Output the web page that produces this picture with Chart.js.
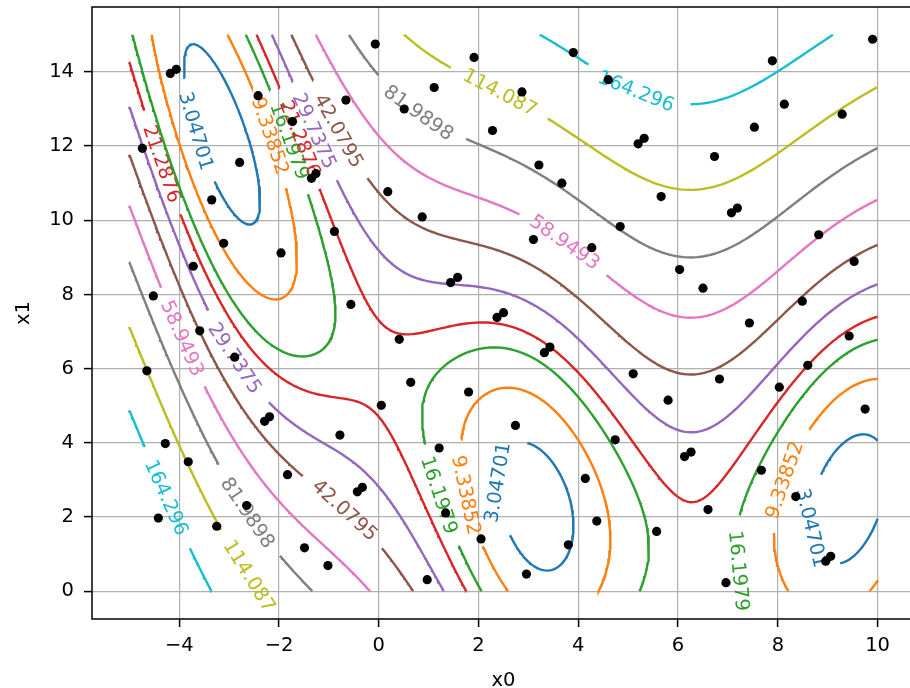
<!DOCTYPE html>
<html>
<head>
<meta charset="utf-8">
<script src="https://cdn.jsdelivr.net/npm/chart.js@4.4.1/dist/chart.umd.min.js"></script>
<style>
  html, body { margin: 0; padding: 0; overflow: hidden; background: #fff; width: 910px; height: 688px; }
  canvas { display: block; }
</style>
</head>
<body>
<canvas id="chart" width="925" height="688" style="width:925px;height:688px"></canvas>
<script>
// Contour levels of the Branin surface and their line colours
const levels = [3.04701, 9.33852, 16.1979, 21.2876, 29.7375, 42.0795, 58.9493, 81.9898, 114.087, 164.296];
const levelColors = ['#1f77b4', '#ff7f0e', '#2ca02c', '#d62728', '#9467bd',
                     '#8c564b', '#e377c2', '#7f7f7f', '#bcbd22', '#17becf'];

// Sampled points (x0, x1)
const sampleX0 = [
  -0.07, -4.06, -4.18, -2.42, -0.66, -1.73, -4.74, -2.79, -1.26, -1.35,
  -3.35, 1.91, 3.90, 4.60, 1.11, 2.87, 0.51, 2.28, 5.32, 5.20,
  3.21, 3.67, 0.18, 0.87, 9.90, 7.89, 8.13, 9.29, 7.53, 6.73,
  5.66, 7.19, 7.07, -3.11, -1.96, -0.89, -3.72, -4.52, -0.56, -3.59,
  -2.89, -4.65, -2.19, -2.29, 4.84, 3.10, 4.27, 1.58, 1.44, 2.50,
  2.37, 0.41, 3.43, 3.32, 5.10, 0.64, 1.80, 0.05, 2.74, 8.82,
  9.53, 6.03, 6.50, 8.49, 7.43, 9.43, 8.60, 6.83, 8.03, 5.80,
  9.75, -4.28, -0.78, -3.82, -1.83, -0.33, -0.43, -2.65, -4.42, -3.25,
  -1.49, -1.02, 1.21, 4.74, 4.14, 1.34, 4.37, 2.05, 3.80, 0.97,
  2.96, 6.26, 6.13, 7.67, 8.36, 6.60, 5.57, 9.06, 8.96, 6.96
];
const sampleX1 = [
  14.75, 14.07, 13.96, 13.36, 13.24, 12.66, 11.94, 11.56, 11.26, 11.13,
  10.55, 14.39, 14.52, 13.79, 13.58, 13.46, 13.00, 12.42, 12.21, 12.06,
  11.49, 11.00, 10.77, 10.09, 14.88, 14.30, 13.13, 12.86, 12.51, 11.72,
  10.64, 10.33, 10.20, 9.38, 9.12, 9.70, 8.76, 7.96, 7.73, 7.02,
  6.31, 5.94, 4.70, 4.58, 9.83, 9.48, 9.26, 8.46, 8.32, 7.51,
  7.38, 6.79, 6.58, 6.43, 5.86, 5.63, 5.37, 5.01, 4.47, 9.61,
  8.89, 8.67, 8.17, 7.82, 7.23, 6.88, 6.09, 5.72, 5.50, 5.15,
  4.91, 3.98, 4.21, 3.49, 3.14, 2.80, 2.68, 2.31, 1.97, 1.75,
  1.17, 0.69, 3.86, 4.08, 3.04, 2.11, 1.89, 1.41, 1.25, 0.31,
  0.46, 3.75, 3.63, 3.26, 2.55, 2.20, 1.61, 0.94, 0.81, 0.23
];

const xTicks = [-4, -2, 0, 2, 4, 6, 8, 10];
const yTicks = [0, 2, 4, 6, 8, 10, 12, 14];

// Where the inline contour labels sit: [level index, x0, x1]
const labelAnchors = [
  [0, -3.66, 12.41], [0, 2.27, 2.96], [0, 8.68, 1.70],
  [1, -2.09, 12.33], [1, 1.82, 2.60], [1, 8.09, 3.02],
  [2, -1.77, 12.15], [2, 1.27, 2.60], [2, 7.28, 0.54],
  [3, -1.57, 12.23], [3, -4.31, 11.52],
  [4, -1.17, 12.50], [4, -2.84, 6.36],
  [5, -0.77, 12.46], [5, -0.64, 2.20],
  [6, -3.91, 6.86], [6, 3.77, 9.46],
  [7, 0.83, 12.95], [7, -2.57, 2.20],
  [8, 2.44, 13.58], [8, -2.51, 0.49],
  [9, 5.18, 13.54], [9, -4.21, 2.55]
];

// ---- Branin surface and its contour lines (marching squares) ----
function branin(x0, x1) {
  const a = 1, b = 5.1 / (4 * Math.PI * Math.PI), c = 5 / Math.PI;
  const r = 6, s = 10, t = 1 / (8 * Math.PI);
  const q = x1 - b * x0 * x0 + c * x0 - r;
  return a * q * q + s * (1 - t) * Math.cos(x0) + s;
}

const DOMAIN_X0 = [-5, 10];
const DOMAIN_X1 = [0, 15];
const GRID_N = 220;
const gx = i => DOMAIN_X0[0] + (DOMAIN_X0[1] - DOMAIN_X0[0]) * i / GRID_N;
const gy = j => DOMAIN_X1[0] + (DOMAIN_X1[1] - DOMAIN_X1[0]) * j / GRID_N;
const field = [];
for (let i = 0; i <= GRID_N; i++) {
  field.push([]);
  for (let j = 0; j <= GRID_N; j++) field[i].push(branin(gx(i), gy(j)));
}

function contourLines(level) {
  const pts = {};
  const segs = [];
  const edge = (key, xa, ya, va, xb, yb, vb) => {
    if (!(key in pts)) {
      const t = (level - va) / (vb - va);
      pts[key] = { x: xa + (xb - xa) * t, y: ya + (yb - ya) * t };
    }
    return key;
  };
  for (let i = 0; i < GRID_N; i++) {
    for (let j = 0; j < GRID_N; j++) {
      const v0 = field[i][j], v1 = field[i + 1][j], v2 = field[i + 1][j + 1], v3 = field[i][j + 1];
      const a0 = v0 >= level, a1 = v1 >= level, a2 = v2 >= level, a3 = v3 >= level;
      const e = [null, null, null, null];
      if (a0 !== a1) e[0] = edge('h' + i + '_' + j, gx(i), gy(j), v0, gx(i + 1), gy(j), v1);
      if (a1 !== a2) e[1] = edge('v' + (i + 1) + '_' + j, gx(i + 1), gy(j), v1, gx(i + 1), gy(j + 1), v2);
      if (a3 !== a2) e[2] = edge('h' + i + '_' + (j + 1), gx(i), gy(j + 1), v3, gx(i + 1), gy(j + 1), v2);
      if (a0 !== a3) e[3] = edge('v' + i + '_' + j, gx(i), gy(j), v0, gx(i), gy(j + 1), v3);
      const hit = e.filter(k => k !== null);
      if (hit.length === 2) {
        segs.push([hit[0], hit[1]]);
      } else if (hit.length === 4) {
        const center = (v0 + v1 + v2 + v3) / 4 >= level;
        if (center === a0) { segs.push([e[0], e[1]], [e[2], e[3]]); }
        else { segs.push([e[3], e[0]], [e[1], e[2]]); }
      }
    }
  }
  const byKey = {};
  segs.forEach((s, idx) => {
    (byKey[s[0]] = byKey[s[0]] || []).push(idx);
    (byKey[s[1]] = byKey[s[1]] || []).push(idx);
  });
  const used = new Uint8Array(segs.length);
  const nextFrom = key => {
    for (const idx of byKey[key]) {
      if (!used[idx]) { used[idx] = 1; const s = segs[idx]; return s[0] === key ? s[1] : s[0]; }
    }
    return null;
  };
  const lines = [];
  for (let idx = 0; idx < segs.length; idx++) {
    if (used[idx]) continue;
    used[idx] = 1;
    const fwd = [segs[idx][0], segs[idx][1]];
    let k;
    while ((k = nextFrom(fwd[fwd.length - 1])) !== null) fwd.push(k);
    const back = [];
    while ((k = nextFrom(back.length ? back[back.length - 1] : fwd[0])) !== null) back.push(k);
    const chain = back.reverse().concat(fwd);
    lines.push(chain.map(key => pts[key]));
  }
  return lines;
}

const contours = levels.map(contourLines);

const FONT_FAMILY = 'DejaVu Sans';
const FONT_SIZE = 19.5;
const LABEL_GAP_PAD = 11;

Chart.defaults.font.family = FONT_FAMILY;
Chart.defaults.font.size = FONT_SIZE;
Chart.defaults.color = '#000';

let labelItems = [];

// Inline labels are painted before the marks so that the points sit above them
const contourLabelPlugin = {
  id: 'contourLabels',
  beforeDatasetsDraw(chart) {
    const ctx = chart.ctx;
    ctx.save();
    ctx.font = FONT_SIZE + 'px "' + FONT_FAMILY + '"';
    ctx.textAlign = 'center';
    ctx.textBaseline = 'middle';
    for (const it of labelItems) {
      ctx.save();
      ctx.translate(it.x, it.y);
      ctx.rotate(it.angle);
      ctx.fillStyle = it.color;
      ctx.fillText(it.text, 0, 1);
      ctx.restore();
    }
    ctx.restore();
  }
};

// Frame round the plotting area
const framePlugin = {
  id: 'frame',
  afterDatasetsDraw(chart) {
    const { ctx, chartArea: a } = chart;
    ctx.save();
    ctx.strokeStyle = '#000';
    ctx.lineWidth = 1.5;
    ctx.strokeRect(a.left, a.top, a.right - a.left, a.bottom - a.top);
    ctx.restore();
  }
};

const fmtTick = v => (v < 0 ? '\u2212' + Math.abs(v) : String(v));

const datasets = [{
  label: 'samples',
  data: sampleX0.map((x, i) => ({ x, y: sampleX1[i] })),
  backgroundColor: '#000',
  borderWidth: 0,
  pointRadius: 4.6,
  showLine: false,
  order: 0
}];
contours.forEach((lines, li) => {
  const data = [];
  lines.forEach(l => { l.forEach(p => data.push({ x: p.x, y: p.y })); data.push({ x: l[l.length - 1].x, y: null }); });
  datasets.push({
    label: String(levels[li]),
    data,
    showLine: true,
    borderColor: levelColors[li],
    borderWidth: 2.4,
    pointRadius: 0,
    spanGaps: false,
    tension: 0,
    order: 1
  });
});

const chart = new Chart(document.getElementById('chart'), {
  type: 'scatter',
  data: { datasets },
  options: {
    responsive: false,
    animation: false,
    devicePixelRatio: 1,
    layout: { padding: { left: 0, top: 7, right: 10, bottom: 0 } },
    plugins: { legend: { display: false }, tooltip: { enabled: false } },
    scales: {
      x: {
        type: 'linear', min: -5.75, max: 10.75,
        afterBuildTicks: axis => { axis.ticks = xTicks.map(v => ({ value: v })); },
        afterFit: axis => { axis.height = 69; axis.paddingLeft = 0; axis.paddingRight = 0; },
        ticks: { callback: fmtTick, padding: 7, maxRotation: 0, autoSkip: false },
        grid: { color: '#b0b0b0', lineWidth: 1.2, tickColor: '#000', tickLength: 8, tickWidth: 1.5 },
        border: { display: false },
        title: { display: true, text: 'x0', font: { lineHeight: 1 }, padding: { top: 0, bottom: -3 } }
      },
      y: {
        type: 'linear', min: -0.75, max: 15.75,
        afterBuildTicks: axis => { axis.ticks = yTicks.map(v => ({ value: v })); },
        afterFit: axis => { axis.width = 92; axis.paddingTop = 0; axis.paddingBottom = 0; },
        ticks: { callback: fmtTick, padding: 10, autoSkip: false },
        grid: { color: '#b0b0b0', lineWidth: 1.2, tickColor: '#000', tickLength: 8, tickWidth: 1.5 },
        border: { display: false },
        title: { display: true, text: 'x1', font: { lineHeight: 1 }, padding: { top: 14, bottom: 0 } }
      }
    }
  },
  plugins: [contourLabelPlugin, framePlugin]
});

// Place the inline labels on their contours and open a gap in each line under its label
function placeLabels() {
  const xs = chart.scales.x, ys = chart.scales.y;
  const ctx = chart.ctx;
  ctx.save();
  ctx.font = FONT_SIZE + 'px "' + FONT_FAMILY + '"';
  const hidden = contours.map(lines => lines.map(l => new Uint8Array(l.length)));
  const items = [];
  for (const [li, ax, ay] of labelAnchors) {
    const lines = contours[li];
    const px = xs.getPixelForValue(ax), py = ys.getPixelForValue(ay);
    let best = Infinity, bl = -1, bk = -1;
    lines.forEach((l, m) => l.forEach((p, k) => {
      const dx = xs.getPixelForValue(p.x) - px, dy = ys.getPixelForValue(p.y) - py;
      const d = dx * dx + dy * dy;
      if (d < best) { best = d; bl = m; bk = k; }
    }));
    if (bl < 0) continue;
    const l = lines[bl];
    const P = l.map(p => [xs.getPixelForValue(p.x), ys.getPixelForValue(p.y)]);
    const n = P.length;
    const closed = n > 2 && l[0] === l[n - 1];
    const ring = n - 1;
    const text = String(levels[li]);
    const half = ctx.measureText(text).width / 2 + LABEL_GAP_PAD;
    const walk = dir => {
      let k = bk, acc = 0;
      const ids = [];
      while (acc < half) {
        let nk = k + dir;
        if (closed) nk = ((nk % ring) + ring) % ring;
        else if (nk < 0 || nk >= n) break;
        acc += Math.hypot(P[nk][0] - P[k][0], P[nk][1] - P[k][1]);
        k = nk;
        ids.push(k);
        if (ids.length > n) break;
      }
      return { k, ids };
    };
    const f = walk(1), b = walk(-1);
    const h = hidden[li][bl];
    h[bk] = 1;
    f.ids.forEach(k => { h[k] = 1; });
    b.ids.forEach(k => { h[k] = 1; });
    if (closed) { if (h[0]) h[n - 1] = 1; if (h[n - 1]) h[0] = 1; }
    let ang = Math.atan2(P[f.k][1] - P[b.k][1], P[f.k][0] - P[b.k][0]);
    if (ang > Math.PI / 2) ang -= Math.PI;
    if (ang <= -Math.PI / 2) ang += Math.PI;
    items.push({ x: P[bk][0], y: P[bk][1], angle: ang, text, color: levelColors[li] });
  }
  ctx.restore();
  labelItems = items;
  contours.forEach((lines, li) => {
    const data = [];
    lines.forEach((l, m) => {
      const h = hidden[li][m];
      l.forEach((p, k) => {
        if (h[k]) data.push({ x: p.x, y: null });
        else data.push({ x: p.x, y: p.y });
      });
      data.push({ x: l[l.length - 1].x, y: null });
    });
    chart.data.datasets[li + 1].data = data;
  });
  chart.update('none');
}
placeLabels();
</script>
</body>
</html>
